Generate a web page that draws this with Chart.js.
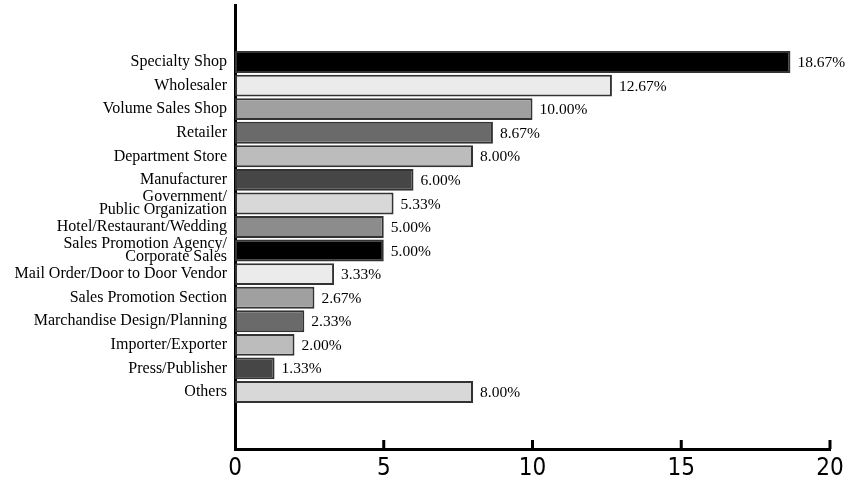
<!DOCTYPE html>
<html>
<head>
<meta charset="utf-8">
<script src="https://cdn.jsdelivr.net/npm/chart.js@4/dist/chart.umd.min.js"></script>
<style>
  html, body { margin: 0; padding: 0; background: #fff; }
  #wrap { width: 845px; height: 482px; }
</style>
</head>
<body>
<div id="wrap"><canvas id="channelChart"></canvas></div>
<script>
// categories, top to bottom
const categories = [
    'Specialty Shop',
    'Wholesaler',
    'Volume Sales Shop',
    'Retailer',
    'Department Store',
    'Manufacturer',
    ['Government/', 'Public Organization'],
    'Hotel/Restaurant/Wedding',
    ['Sales Promotion Agency/', 'Corporate Sales'],
    'Mail Order/Door to Door Vendor',
    'Sales Promotion Section',
    'Marchandise Design/Planning',
    'Importer/Exporter',
    'Press/Publisher',
    'Others'
];
const shares = [18.67, 12.67, 10.00, 8.67, 8.00, 6.00, 5.33, 5.00, 5.00, 3.33, 2.67, 2.33, 2.00, 1.33, 8.00];
const barColors = [
    '#000000', '#ebebeb', '#a0a0a0', '#6a6a6a', '#bcbcbc',
    '#464646', '#d8d8d8', '#8c8c8c', '#000000', '#ebebeb',
    '#a0a0a0', '#6a6a6a', '#bcbcbc', '#464646', '#d8d8d8'
];
const xTicks = [0, 5, 10, 15, 20];

const serif = "'Liberation Serif', 'DejaVu Serif', serif";

// percent labels at the end of each bar
const valueLabels = {
    id: 'valueLabels',
    afterDatasetsDraw(chart) {
        const ctx = chart.ctx;
        const meta = chart.getDatasetMeta(0);
        ctx.save();
        ctx.font = '15.5px ' + serif;
        ctx.fillStyle = '#000';
        ctx.textAlign = 'left';
        ctx.textBaseline = 'middle';
        meta.data.forEach((bar, i) => {
            ctx.fillText(shares[i].toFixed(2) + '%', bar.x + 7, bar.y + 1);
        });
        ctx.restore();
    }
};

// x-axis tick marks pointing up into the plot
const innerTicks = {
    id: 'innerTicks',
    afterDraw(chart) {
        const ctx = chart.ctx;
        const xs = chart.scales.x;
        const bottom = chart.chartArea.bottom;
        ctx.save();
        ctx.strokeStyle = '#000';
        ctx.lineWidth = 3;
        xs.ticks.forEach(t => {
            if (t.value === 0) return;
            const px = xs.getPixelForValue(t.value);
            ctx.beginPath();
            ctx.moveTo(px, bottom);
            ctx.lineTo(px, bottom - 9);
            ctx.stroke();
        });
        ctx.restore();
    }
};

document.addEventListener('DOMContentLoaded', function () {
    const ctx = document.getElementById('channelChart').getContext('2d');

    new Chart(ctx, {
        type: 'bar',
        data: {
            datasets: [{
                data: shares.map((v, i) => ({ x: v, y: i })),
                backgroundColor: barColors,
                borderColor: '#333333',
                borderWidth: 2,
                borderSkipped: false,
                barPercentage: 0.93,
                categoryPercentage: 1
            }]
        },
        options: {
            indexAxis: 'y',
            responsive: true,
            maintainAspectRatio: false,
            animation: false,
            layout: { padding: { top: 5, right: 15, left: 0, bottom: 0 } },
            plugins: {
                legend: { display: false },
                tooltip: { enabled: false }
            },
            scales: {
                x: {
                    type: 'linear',
                    min: 0,
                    max: 20,
                    afterBuildTicks: s => { s.ticks = xTicks.map(v => ({ value: v })); },
                    afterFit: s => { s.height = 33; s.paddingLeft = 0; s.paddingRight = 0; },
                    grid: { display: false, drawTicks: false },
                    border: { display: true, color: '#000', width: 3 },
                    ticks: {
                        padding: 5,
                        color: '#000',
                        font: { family: "'Liberation Sans Narrow', 'DejaVu Sans Condensed', sans-serif", size: 24 }
                    }
                },
                y: {
                    type: 'linear',
                    offset: false,
                    reverse: true,
                    min: -2.42,
                    max: 16.42,
                    afterFit: s => { s.width = 235; s.paddingTop = 0; s.paddingBottom = 0; },
                    grid: { display: false, drawTicks: false, offset: false },
                    border: { display: true, color: '#000', width: 3 },
                    ticks: {
                        stepSize: 1,
                        autoSkip: false,
                        maxTicksLimit: 100,
                        padding: 8,
                        color: '#000',
                        font: { family: serif, size: 16, lineHeight: 0.8 },
                        callback: v => (Number.isInteger(v) && categories[v] !== undefined) ? categories[v] : null
                    }
                }
            }
        },
        plugins: [valueLabels, innerTicks]
    });
});
</script>
</body>
</html>
